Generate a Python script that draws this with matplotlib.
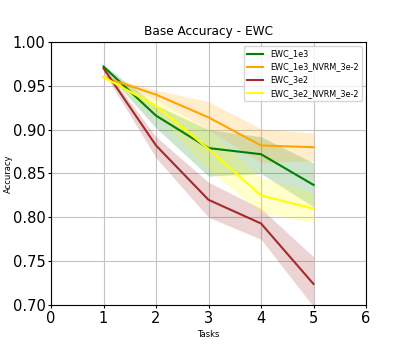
import numpy as np
import matplotlib.pyplot as plt

tasks = [1, 2, 3, 4, 5]
labels = ['EWC_1e3', 'EWC_1e3_NVRM_3e-2', 'EWC_3e2', 'EWC_3e2_NVRM_3e-2']
colors = ['green', 'orange', 'brown', 'yellow']

# mean accuracy per task
ewc_1e3 = [0.972, 0.916, 0.879, 0.872, 0.837]
ewc_1e3_nvrm = [0.960, 0.940, 0.914, 0.882, 0.880]
ewc_3e2 = [0.970, 0.882, 0.820, 0.793, 0.724]
ewc_3e2_nvrm = [0.960, 0.927, 0.878, 0.825, 0.810]

# shaded band bounds
ewc_1e3_hi = [0.974, 0.928, 0.900, 0.892, 0.862]
ewc_1e3_lo = [0.969, 0.902, 0.847, 0.850, 0.812]
ewc_1e3_nvrm_hi = [0.962, 0.945, 0.932, 0.901, 0.896]
ewc_1e3_nvrm_lo = [0.958, 0.934, 0.900, 0.863, 0.864]
ewc_3e2_hi = [0.972, 0.892, 0.840, 0.810, 0.755]
ewc_3e2_lo = [0.966, 0.868, 0.800, 0.775, 0.698]
ewc_3e2_nvrm_hi = [0.962, 0.934, 0.900, 0.845, 0.828]
ewc_3e2_nvrm_lo = [0.958, 0.919, 0.854, 0.805, 0.794]

means = [ewc_1e3, ewc_1e3_nvrm, ewc_3e2, ewc_3e2_nvrm]
highs = [ewc_1e3_hi, ewc_1e3_nvrm_hi, ewc_3e2_hi, ewc_3e2_nvrm_hi]
lows = [ewc_1e3_lo, ewc_1e3_nvrm_lo, ewc_3e2_lo, ewc_3e2_nvrm_lo]

fig = plt.figure(figsize=(4.07, 3.49), dpi=100)
ax = fig.add_axes([51 / 407, 44 / 349, 315 / 407, 263 / 349])

for m, hi, lo, c, lab in zip(means, highs, lows, colors, labels):
    ax.plot(tasks, m, color=c, linewidth=1.5, label=lab)
    ax.fill_between(tasks, lo, hi, color=c, alpha=0.2, linewidth=0)

ax.set_xlim(0, 6)
ax.set_ylim(0.70, 1.00)
ax.set_xticks(range(0, 7))
ax.tick_params(labelsize=10.5, length=2, pad=2)
ax.grid(True, color='#c4c4c4', linewidth=0.8)
ax.set_axisbelow(True)
ax.set_title('Base Accuracy - EWC', fontsize=8.7, pad=5)
ax.set_xlabel('Tasks', fontsize=6, labelpad=3)
ax.set_ylabel('Accuracy', fontsize=6, labelpad=0)
ax.legend(loc='upper right', fontsize=5.9)

plt.savefig('out.png', dpi=100)
